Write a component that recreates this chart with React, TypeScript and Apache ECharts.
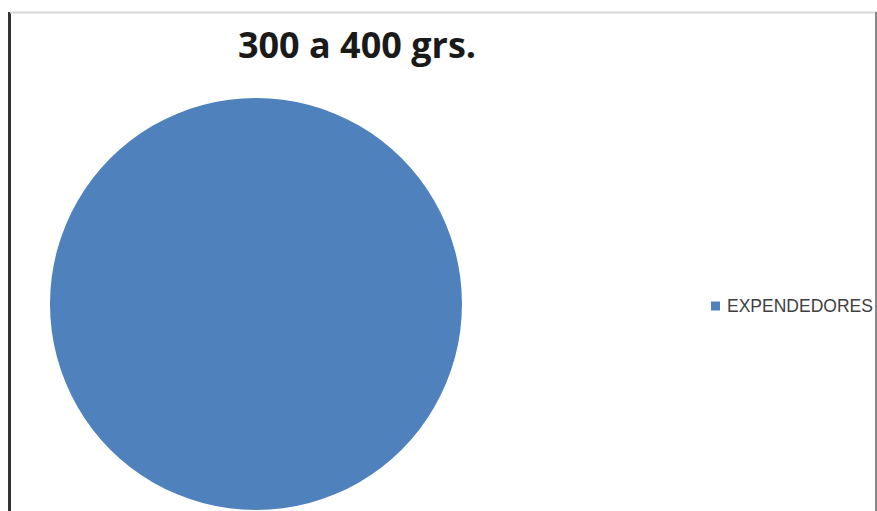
import React, { useEffect, useRef } from "react";
import * as echarts from "echarts";

const categories = ["EXPENDEDORES"];
const values = [100];
const titleText = "300 a 400 grs.";

export default function App() {
  const ref = useRef<HTMLDivElement>(null);
  useEffect(() => {
    if (!ref.current) return;
    const chart = echarts.init(ref.current, null, { renderer: "svg" });
    chart.setOption({
      animation: false,
      backgroundColor: "#ffffff",
      title: {
        text: titleText,
        left: 352,
        top: 21,
        textAlign: "center",
        textStyle: {
          fontFamily: "Open Sans",
          fontWeight: "bold",
          fontSize: 36,
          color: "#1a1a1a",
        },
      },
      legend: {
        data: categories,
        orient: "vertical",
        left: 706,
        top: 292,
        itemWidth: 9,
        itemHeight: 9,
        itemGap: 6,
        icon: "rect",
        textStyle: {
          fontFamily: "Liberation Sans",
          fontSize: 17.5,
          color: "#404040",
          padding: [0, 0, 0, 2],
        },
      },
      graphic: [
        { type: "line", shape: { x1: 9.5, y1: 12, x2: 9.5, y2: 511 }, style: { stroke: "#333", lineWidth: 3 } },
        { type: "line", shape: { x1: 10, y1: 12.5, x2: 877, y2: 12.5 }, style: { stroke: "#d8d8d8", lineWidth: 2 } },
        { type: "line", shape: { x1: 876, y1: 12, x2: 876, y2: 511 }, style: { stroke: "#888", lineWidth: 2 } },
      ],
      series: [
        {
          type: "pie",
          center: [256, 304],
          radius: [0, 206],
          startAngle: 90,
          label: { show: false },
          labelLine: { show: false },
          itemStyle: { color: "#4f81bd", borderWidth: 0 },
          emphasis: { disabled: true },
          data: categories.map((c, i) => ({ name: c, value: values[i] })),
        },
      ],
    });
    return () => chart.dispose();
  }, []);
  return (
    <div
      ref={ref}
      style={{ position: "fixed", left: 0, top: 0, width: 877, height: 511 }}
    />
  );
}
